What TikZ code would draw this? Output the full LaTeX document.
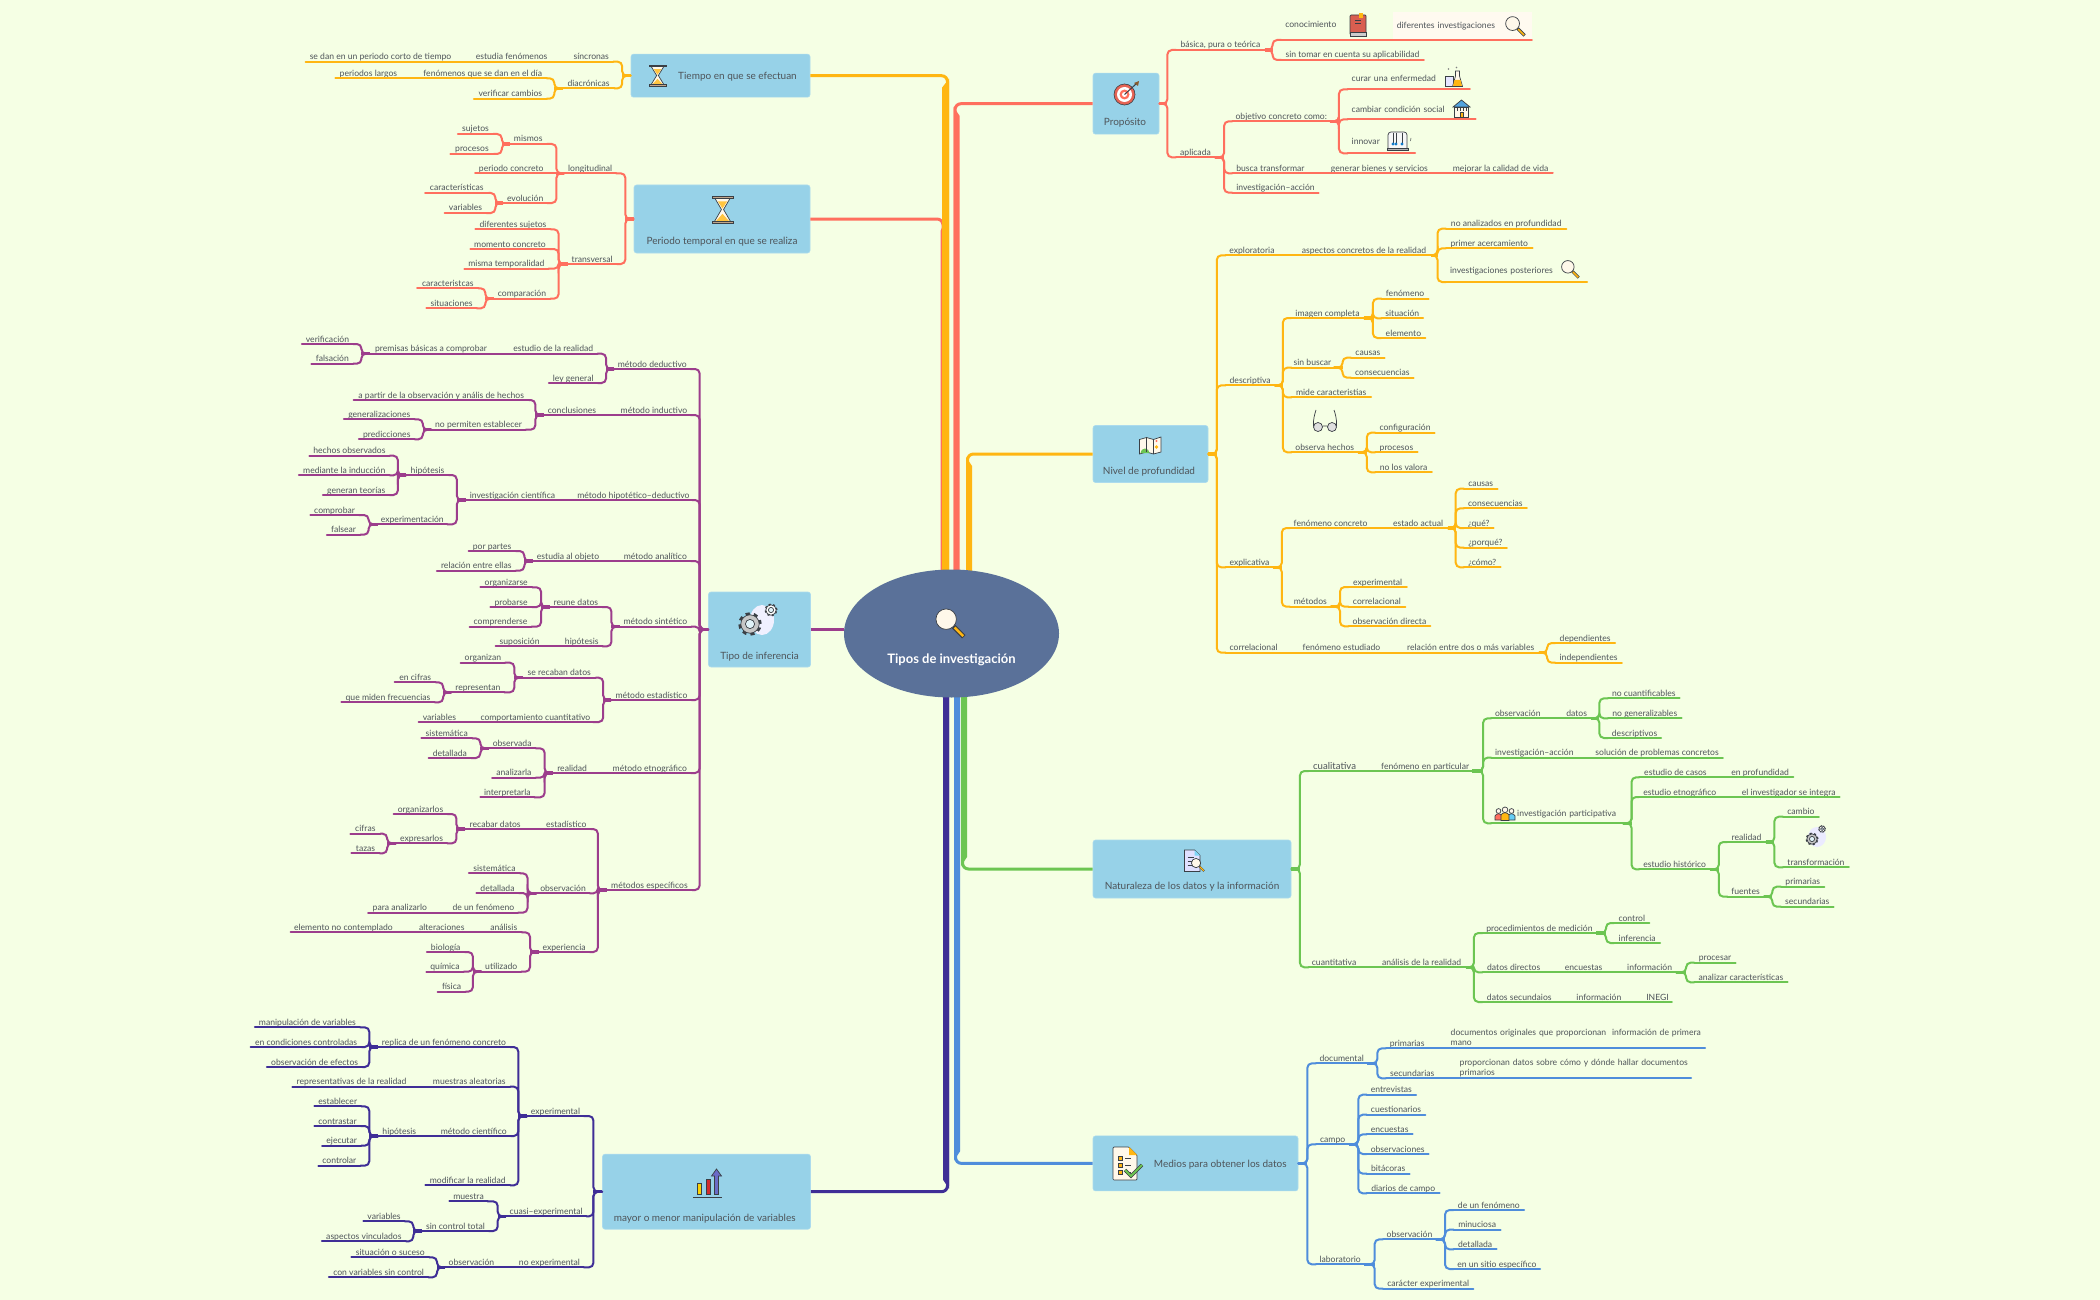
\documentclass[tikz,border=0pt]{standalone}
\usepackage{fontspec}
\setmainfont{Lato}
\usetikzlibrary{calc,shapes.geometric}
\definecolor{bgc}{HTML}{F5FFE4}
\definecolor{boxc}{HTML}{97D2E8}
\definecolor{rootc}{HTML}{5A7199}
\definecolor{txtc}{HTML}{4E5459}
\definecolor{ink}{HTML}{3A3F45}
\definecolor{cy}{HTML}{FFB612}
\definecolor{cc}{HTML}{FF6F5E}
\definecolor{cp}{HTML}{9C3D8C}
\definecolor{cn}{HTML}{3F2E96}
\definecolor{cg}{HTML}{6CC552}
\definecolor{cb}{HTML}{4F8DDB}
\definecolor{cream}{HTML}{FFF8EA}
\newcommand{\fsT}{\fontsize{8.6}{10}\selectfont}
\newcommand{\fsB}{\fontsize{10}{12}\selectfont}
\def\brc{cy}
\tikzset{
 topic/.style={anchor=south,inner xsep=0pt,inner ysep=0pt,outer sep=0pt,text depth=2pt,text=txtc,font=\fsT},
 lft/.style={inner xsep=4pt,text width={\tpw-8pt},align=left},
 branch/.style={draw=\brc,line width=2pt,line cap=round},
 stubl/.style={draw=\brc,line width=3.2pt},
 mainbox/.style={fill=boxc,draw=boxc!80!white,line width=.6pt,rounded corners=2.5pt,inner sep=0pt},
 boxlabel/.style={text=txtc,font=\fsB,inner sep=0pt,yshift=-1.2pt},
 rootthin/.style={line width=3pt,rounded corners=6pt},
 outl/.style={draw=ink,line width=.7pt}
}
\newcommand{\zoomset}[4]{\def\zx{#1}\def\zy{#2}\def\zsx{#3}\def\zsy{#4}}
% [options]{name}{left}{right}{underline y}{text}: a topic with its underline
\newcommand{\topicn}[6][]{%
 \pgfmathsetmacro\tpxl{\zx+#3/\zsx}\pgfmathsetmacro\tpxr{\zx+#4/\zsx}\pgfmathsetmacro\tpy{\zy+#5/\zsy}%
 \pgfmathsetlengthmacro\tpw{(\tpxr-\tpxl)*1pt}%
 \node[topic,minimum width=\tpw,#1] (#2) at ({(\tpxl+\tpxr)/2},\tpy) {#6};%
 \draw[branch] (#2.south west) -- (#2.south east);}
\newcommand{\setstem}[1]{\pgfmathsetmacro\stx{\zx+#1/\zsx}\coordinate (st) at (\stx,0);}
\newcommand{\brL}[3]{\setstem{#2}%
 \foreach \kid in {#3}{\draw[branch,rounded corners=4.5pt] (#1.south west) -- (st |- #1.south west) -- (st |- \kid.south east) -- (\kid.south east);}%
 \draw[stubl] (#1.south west) -- (st |- #1.south west);}
\newcommand{\brR}[3]{\setstem{#2}%
 \foreach \kid in {#3}{\draw[branch,rounded corners=4.5pt] (#1.south east) -- (st |- #1.south east) -- (st |- \kid.south west) -- (\kid.south west);}%
 \draw[stubl] (#1.south east) -- (st |- #1.south east);}
\newcommand{\boxL}[3]{\setstem{#2}%
 \foreach \kid in {#3}{\draw[branch,rounded corners=4.5pt] (#1.west) -- (st |- #1.west) -- (st |- \kid.south east) -- (\kid.south east);}%
 \draw[stubl] (#1.west) -- (st |- #1.west);}
\newcommand{\boxR}[3]{\setstem{#2}%
 \foreach \kid in {#3}{\draw[branch,rounded corners=4.5pt] (#1.east) -- (st |- #1.east) -- (st |- \kid.south west) -- (\kid.south west);}%
 \draw[stubl] (#1.east) -- (st |- #1.east);}
\newcommand{\linkh}[2]{\draw[branch] (#1.south east) -- (#2.south west);}
% box anchor, trunk coordinate, colour, trunk width, side of the box (+1 right, -1 left), direction to the root (+1 down, -1 up)
\newcommand{\rootln}[6]{%
 \pgfmathsetmacro\rw{#4/2}\pgfmathsetmacro\ro{(#4/2-1.5)*#5}%
 \draw[rootthin,#3] (#1) -- ($(#2 |- #1)+(-\ro,0)$) -- ($(#2)+(-\ro,0)$);
 \fill[#3] ($(#2 |- #1)+({-#5*\rw},{#6*3})$) -- ($(#2 |- #1)+({#5*\rw},{#6*12})$) -- ($(#2)+({#5*\rw},0)$) -- ($(#2)+({-#5*\rw},0)$) -- cycle;}
% ---- icons
\newcommand{\iconMag}[3]{\begin{scope}[shift={(#1,#2)},x=#3pt,y=-#3pt]
 \draw[ink,line width=.15*#3pt] (.6,.6) -- (.93,.93);
 \draw[cy,line width=.08*#3pt] (.63,.63) -- (.91,.91);
 \fill[cream] (.36,.36) circle (.33);
 \draw[ink,line width=.7pt] (.36,.36) circle (.33);
\end{scope}}
\newcommand{\iconGlass}[4]{\begin{scope}[shift={(#1,#2)},x=#3pt,y=-#4pt]
 \filldraw[fill=cream,outl] (.12,.06) -- (.88,.06) -- (.55,.5) -- (.88,.94) -- (.12,.94) -- (.45,.5) -- cycle;
 \fill[cy!80] (.28,.2) -- (.72,.2) -- (.5,.46) -- cycle;
 \fill[cy!80] (.5,.66) -- (.8,.92) -- (.2,.92) -- cycle;
 \filldraw[fill=brown!60!gray!70,outl] (0,0) rectangle (1,.07);
 \filldraw[fill=brown!60!gray!70,outl] (0,.93) rectangle (1,1);
\end{scope}}
\newcommand{\iconGear}[4]{%
 \pgfmathsetlengthmacro\gd{2*pi*#3*.85/16*1pt}%
 \draw[ink,line width=.34*#3pt,dash pattern=on \gd off \gd] (#1,#2) circle (.85*#3pt);
 \filldraw[fill=#4,draw=ink,line width=.7pt] (#1,#2) circle (.8*#3pt);
 \filldraw[fill=boxc!30!white,draw=ink,line width=.7pt] (#1,#2) circle (.4*#3pt);}
\begin{document}
\begin{tikzpicture}[x=1pt,y=-1pt]
\fill[bgc] (0,0) rectangle (2100,1300);
\useasboundingbox (0,0) rectangle (2100,1300);
% ---- main boxes and root
\node[mainbox,minimum width=179pt,minimum height=43pt] (bTiempo) at (720.5,75.7) {};
\node[mainbox,minimum width=176pt,minimum height=68pt] (bPeriodo) at (722,219) {};
\node[mainbox,minimum width=102pt,minimum height=75pt] (bTipo) at (759.5,629.5) {};
\node[mainbox,minimum width=208pt,minimum height=75pt] (bMayor) at (706.5,1191.7) {};
\node[mainbox,minimum width=66pt,minimum height=61pt] (bProp) at (1126,103.7) {};
\node[mainbox,minimum width=115pt,minimum height=57pt] (bNivel) at (1150.5,454) {};
\node[mainbox,minimum width=198pt,minimum height=58pt] (bNat) at (1192,869) {};
\node[mainbox,minimum width=205pt,minimum height=55pt] (bMed) at (1195.5,1163.4) {};
\coordinate (rCoralA) at (942.5,633.5);\coordinate (rYellowA) at (945.5,633.5);
\coordinate (rCoralB) at (956.5,633.5);\coordinate (rYellowB) at (969,633.5);
\coordinate (rNavy) at (946,633.5);\coordinate (rBlue) at (957,633.5);\coordinate (rGreen) at (964,633.5);
\rootln{bPeriodo.east}{rCoralA}{cc}{4}{-1}{1}
\rootln{bTiempo.east}{rYellowA}{cy}{7}{-1}{1}
\rootln{bProp.west}{rCoralB}{cc}{6}{1}{1}
\rootln{bNivel.west}{rYellowB}{cy}{6}{1}{1}
\rootln{bNat.west}{rGreen}{cg}{6}{1}{-1}
\rootln{bMed.west}{rBlue}{cb}{6}{1}{-1}
\rootln{bMayor.east}{rNavy}{cn}{6}{-1}{-1}
\node[ellipse,fill=rootc,minimum width=215pt,minimum height=128pt,inner sep=0pt] (root) at (951.5,633.5) {};
\draw[cp,line width=2.4pt] (bTipo.east) -- (root.west |- bTipo.east);
\node[text=white,font=\fontsize{13}{15}\selectfont\bfseries,inner sep=0pt] (rootlbl) at (951.5,659.5) {Tipos de investigación};
\iconMag{935}{608}{31}
% ---- box labels
\node[boxlabel,anchor=west] (lTiempo) at (678,75.7) {Tiempo en que se efectuan};
\node[boxlabel] (lPeriodo) at (722,240) {Periodo temporal en que se realiza};
\node[boxlabel] (lTipo) at (759.5,655) {Tipo de inferencia};
\node[boxlabel] (lMayor) at (704.7,1217) {mayor o menor manipulación de variables};
\node[boxlabel] (lProp) at (1125,122) {Propósito};
\node[boxlabel] (lNivel) at (1149,470.7) {Nivel de profundidad};
\node[boxlabel] (lNat) at (1192,885.7) {Naturaleza de los datos y la información};
\node[boxlabel,anchor=west] (lMed) at (1153.7,1163.7) {Medios para obtener los datos};
% ---- box icons
\iconGlass{649}{65}{17}{21}
\iconGlass{712}{196}{21}{27}
\fill[white!80!blue!30] (762,620) ellipse (12pt and 15pt);
\iconGear{750}{624}{11.5}{gray!45}
\iconGear{771}{610}{6.5}{white}
% chart
\begin{scope}[shift={(693,1168)}]
 \filldraw[fill=yellow!70!orange,outl] (4,15) rectangle (8.5,26.5);
 \filldraw[fill=red!65!gray,outl] (13,11) rectangle (17.5,26.5);
 \filldraw[fill=blue!45!gray!80,outl] (21.5,26.5) -- (21.5,8) -- (18.5,8) -- (23.5,1) -- (28.5,8) -- (25.5,8) -- (25.5,26.5) -- cycle;
 \draw[ink,line width=.8pt] (0,29.5) -- (29,29.5);
\end{scope}
% target
\begin{scope}[shift={(1114,81)}]
 \fill[cc!90!black] (10.5,13.5) circle (10.5pt);\draw[ink,line width=.6pt] (10.5,13.5) circle (10.5pt);
 \fill[white] (10.5,13.5) circle (7.5pt);\fill[cc] (10.5,13.5) circle (5pt);\fill[white] (10.5,13.5) circle (2.5pt);
 \draw[ink,line width=1pt] (10.5,13.5) -- (22,3);\fill[brown!70!black] (20,2) -- (25,0) -- (24,5) -- cycle;
\end{scope}
% map
\begin{scope}[shift={(1139.5,437)}]
 \filldraw[fill=cream,outl] (0,2.5) -- (7,0.5) -- (14,2.5) -- (21.5,0) -- (21.5,15) -- (14,17) -- (7,15) -- (0,17) -- cycle;
 \fill[cg] (1,16) arc[start angle=180,end angle=0,radius=4.5pt] -- cycle;
 \draw[ink,line width=.7pt] (7,.5) -- (7,15) (14,2.5) -- (14,17);
 \fill[cc] (17,4) circle (1.2pt);\fill[cy] (17,10) circle (1.8pt);
\end{scope}
% document with magnifier
\begin{scope}[shift={(1184.5,850)}]
 \filldraw[fill=blue!12!white,outl] (0,0) -- (10,0) -- (15.5,5.5) -- (15.5,21.5) -- (0,21.5) -- cycle;
 \fill[cyan!50!white] (10,0) -- (15.5,5.5) -- (10,5.5) -- cycle;
 \draw[ink,line width=.6pt] (3,7) -- (9,7) (3,11) -- (8,11) (3,15) -- (8,15);
\end{scope}
\iconMag{1191}{858}{14}
% checklist
\begin{scope}[shift={(1113,1147)}]
 \filldraw[fill=cream,outl,rounded corners=1pt] (0,0) -- (16,0) -- (24,8) -- (24,33) -- (0,33) -- cycle;
 \fill[cy] (16,0) -- (24,8) -- (16,8) -- cycle;
 \foreach \sy in {9,16,23}{\filldraw[fill=cy,outl] (5,\sy) rectangle (9,\sy+4);\draw[ink,line width=.6pt] (12,\sy+2) -- (18,\sy+2);}
 \draw[ink,line width=3.4pt] (12,23) -- (18,29) -- (29,18);
 \draw[cg,line width=2pt] (12,23) -- (18,29) -- (29,18);
\end{scope}
% ---- Tiempo
\def\brc{cy}\zoomset{280}{0}{2.8}{3}
\topicn{a1}{810}{933}{185}{síncronas}
\topicn{a2}{537}{760}{185}{estudia fenómenos}
\topicn{a3}{72}{491}{185}{se dan en un periodo corto de tiempo}
\topicn{a4}{792}{936}{265}{diacrónicas}
\topicn{a5}{388}{747}{235}{fenómenos que se dan en el día}
\topicn{a6}{155}{340}{235}{periodos largos}
\topicn{a7}{543}{747}{296}{verificar cambios}
\boxL{bTiempo}{958}{a1,a4}
\linkh{a2}{a1}\linkh{a3}{a2}\linkh{a6}{a5}
\brL{a4}{768}{a5,a7}
% ---- Periodo
\def\brc{cc}
\topicn{b1}{796}{941}{520}{longitudinal}
\topicn{b2}{805}{943}{792}{transversal}
\topicn{b3}{643}{747}{432}{mismos}
\topicn{b4}{546}{749}{520}{periodo concreto}
\topicn{b5}{625}{748}{609}{evolución}
\topicn{b6}{498}{597}{402}{sujetos}
\topicn{b7}{477}{598}{462}{procesos}
\topicn{b8}{406}{584}{579}{características}
\topicn{b9}{461}{578}{639}{variables}
\topicn{b10}{547}{758}{688}{diferentes sujetos}
\topicn{b11}{533}{755}{747}{momento concreto}
\topicn{b12}{516}{752}{806}{misma temporalidad}
\topicn{b13}{598}{757}{896}{comparación}
\topicn{b14}{384}{556}{865}{caracteristcas}
\topicn{b15}{410}{551}{925}{situaciones}
\boxL{bPeriodo}{967}{b1,b2}
\brL{b1}{774}{b3,b5}\linkh{b4}{b1}
\brL{b3}{621}{b6,b7}
\brL{b5}{603}{b8,b9}
\brL{b2}{780}{b10,b11,b12,b13}
\brL{b13}{575}{b14,b15}
% ---- Tipo de inferencia
\def\brc{cp}\zoomset{280}{320}{2.8}{3}
\topicn{c1}{936}{1149}{147}{método deductivo}
\topicn{c2}{641}{889}{101}{estudio de la realidad}
\topicn{c3}{753}{889}{189}{ley general}
\topicn{c4}{251}{595}{101}{premisas básicas a comprobar}
\topicn{c5}{61}{205}{72}{verificación}
\topicn{c6}{88}{205}{131}{falsación}
\topicn{c7}{945}{1149}{285}{método inductivo}
\topicn{c8}{738}{897}{285}{conclusiones}
\topicn{c9}{206}{697}{240}{a partir de la observación y anális de hechos}
\topicn{c10}{424}{688}{329}{no permiten establecer}
\topicn{c11}{179}{377}{298}{generalizaciones}
\topicn{c12}{221}{377}{358}{predicciones}
\topicn{c13}{825}{1154}{540}{método hipotético–deductivo}
\topicn{c14}{520}{782}{540}{investigación científica}
\topicn{c15}{354}{472}{465}{hipótesis}
\topicn{c16}{273}{468}{613}{experimentación}
\topicn{c17}{82}{307}{407}{hechos observados}
\topicn{c18}{53}{307}{466}{mediante la inducción}
\topicn{c19}{120}{307}{525}{generan teorías}
\topicn{c20}{85}{221}{585}{comprobar}
\topicn{c21}{131}{225}{644}{falsear}
\topicn{c22}{952}{1150}{723}{método analítico}
\topicn{c23}{708}{905}{723}{estudia al objeto}
\topicn{c24}{528}{660}{693}{por partes}
\topicn{c25}{439}{660}{752}{relación entre ellas}
\topicn{c26}{951}{1151}{920}{método sintético}
\topicn{c27}{755}{902}{861}{reune datos}
\topicn{c28}{787}{903}{979}{hipótesis}
\topicn{c29}{604}{738}{979}{suposición}
\topicn{c30}{561}{706}{802}{organizarse}
\topicn{c31}{589}{705}{861}{probarse}
\topicn{c32}{531}{704}{920}{comprenderse}
\linkh{c4}{c2}\linkh{c8}{c7}\linkh{c14}{c13}\linkh{c23}{c22}\linkh{c29}{c28}
\brL{c1}{913}{c2,c3}
\brL{c4}{228}{c5,c6}
\brL{c8}{715}{c9,c10}
\brL{c10}{400}{c11,c12}
\brL{c14}{495}{c15,c16}
\brL{c15}{330}{c17,c18,c19}
\brL{c16}{248}{c20,c21}
\brL{c23}{684}{c24,c25}
\brL{c26}{928}{c27,c28}
\brL{c27}{731}{c30,c31,c32}
\zoomset{280}{650}{2.8}{3}
\topicn{d1}{928}{1152}{150}{método estadístico}
\topicn{d2}{680}{884}{83}{se recaban datos}
\topicn{d3}{554}{876}{216}{comportamiento cuantitativo}
\topicn{d4}{388}{505}{216}{variables}
\topicn{d5}{506}{630}{38}{organizan}
\topicn{d6}{480}{628}{127}{representan}
\topicn{d7}{321}{436}{97}{en cifras}
\topicn{d8}{172}{433}{157}{que miden frecuencias}
\topicn{d9}{921}{1150}{369}{método etnográfico}
\topicn{d10}{764}{872}{369}{realidad}
\topicn{d11}{584}{716}{295}{observada}
\topicn{d12}{594}{716}{383}{analizarla}
\topicn{d13}{561}{712}{442}{interpretarla}
\topicn{d14}{396}{538}{265}{sistemática}
\topicn{d15}{416}{535}{324}{detallada}
\topicn{d16}{915}{1154}{720}{métodos específicos}
\topicn{d17}{733}{870}{537}{estadístico}
\topicn{d18}{718}{867}{730}{observación}
\topicn{d19}{724}{867}{906}{experiencia}
\topicn{d20}{518}{687}{537}{recabar datos}
\topicn{d21}{318}{469}{492}{organizarlos}
\topicn{d22}{325}{468}{580}{expresarlos}
\topicn{d23}{197}{281}{551}{cifras}
\topicn{d24}{200}{279}{610}{tazas}
\topicn{d25}{529}{672}{670}{sistemática}
\topicn{d26}{550}{668}{729}{detallada}
\topicn{d27}{473}{666}{788}{de un fenómeno}
\topicn{d28}{247}{424}{788}{para analizarlo}
\topicn{d29}{576}{677}{847}{análisis}
\topicn{d30}{378}{528}{847}{alteraciones}
\topicn{d31}{30}{325}{847}{elemento no contemplado}
\topicn{d32}{564}{675}{965}{utilizado}
\topicn{d33}{411}{517}{906}{biología}
\topicn{d34}{410}{514}{965}{química}
\topicn{d35}{441}{520}{1025}{física}
\boxL{bTipo}{1175}{c1,c7,c13,c22,c26,d1,d9,d16}
\linkh{d4}{d3}\linkh{d10}{d9}\linkh{d20}{d17}\linkh{d28}{d27}\linkh{d30}{d29}\linkh{d31}{d30}
\brL{d1}{905}{d2,d3}
\brL{d2}{656}{d5,d6}
\brL{d6}{457}{d7,d8}
\brL{d10}{741}{d11,d12,d13}
\brL{d11}{561}{d14,d15}
\brL{d16}{890}{d17,d18,d19}
\brL{d20}{494}{d21,d22}
\brL{d22}{300}{d23,d24}
\brL{d18}{693}{d25,d26,d27}
\brL{d19}{700}{d29,d32}
\brL{d32}{540}{d33,d34,d35}
% ---- mayor o menor
\def\brc{cn}\zoomset{230}{990}{2.57}{3}
\topicn{e1}{764}{909}{378}{experimental}
\topicn{e2}{709}{916}{679}{cuasi–experimental}
\topicn{e3}{733}{909}{832}{no experimental}
\topicn{e4}{380}{720}{171}{replica de un fenómeno concreto}
\topicn{e5}{510}{720}{290}{muestras aleatorias}
\topicn{e6}{532}{721}{438}{método científico}
\topicn{e7}{502}{720}{586}{modificar la realidad}
\topicn{e8}{64}{334}{112}{manipulación de variables}
\topicn{e9}{53}{338}{171}{en condiciones controladas}
\topicn{e10}{95}{340}{231}{observación de efectos}
\topicn{e11}{160}{465}{290}{representativas de la realidad}
\topicn{e12}{381}{489}{438}{hipótesis}
\topicn{e13}{217}{337}{349}{establecer}
\topicn{e14}{217}{336}{408}{contrastar}
\topicn{e15}{237}{337}{467}{ejecutar}
\topicn{e16}{227}{335}{527}{controlar}
\topicn{e17}{564}{662}{634}{muestra}
\topicn{e18}{494}{665}{723}{sin control total}
\topicn{e19}{343}{449}{694}{variables}
\topicn{e20}{236}{452}{754}{aspectos vinculados}
\topicn{e21}{552}{689}{832}{observación}
\topicn{e22}{312}{512}{802}{situación o suceso}
\topicn{e23}{254}{510}{862}{con variables sin control}
\boxL{bMayor}{934}{e1,e2,e3}
\linkh{e11}{e5}\linkh{e12}{e6}\linkh{e21}{e3}
\brL{e1}{741}{e4,e5,e6,e7}
\brL{e4}{358}{e8,e9,e10}
\brL{e12}{358}{e13,e14,e15,e16}
\brL{e2}{688}{e17,e18}
\brL{e18}{471}{e19,e20}
\brL{e21}{532}{e22,e23}
% ---- Proposito
\def\brc{cc}\zoomset{830}{0}{2.063}{3}
\fill[cream!70!white] (1392.8,12) rectangle (1532,40);
\topicn{f1}{714}{897}{150}{básica, pura o teórica}
\topicn{f2}{714}{794}{472}{aplicada}
\topicn[lft,text depth=12pt]{f3}{931}{1125}{120}{conocimiento}
\topicn[lft,text depth=11pt]{f4}{1161}{1448}{120}{diferentes investigaciones}
\topicn{f5}{931}{1225}{180}{sin tomar en cuenta su aplicabilidad}
\topicn{f6}{830}{1032}{364}{objetivo concreto como:}
\topicn{f7}{830}{987}{520}{busca transformar}
\topicn{f8}{830}{1008}{578}{investigación–acción}
\topicn[lft,text depth=8pt]{f9}{1068}{1320}{268}{curar una enfermedad}
\topicn[lft,text depth=7pt]{f10}{1068}{1332}{358}{cambiar condición social}
\topicn[lft,text depth=9pt]{f11}{1068}{1207}{460}{innovar}
\topicn{f12}{1025}{1242}{520}{generar bienes y servicios}
\topicn{f13}{1276}{1491}{520}{mejorar la calidad de vida}
\boxR{bProp}{696}{f1,f2}
\brR{f1}{913}{f3,f5}\linkh{f3}{f4}
\brR{f2}{813}{f6,f7,f8}
\brR{f6}{1050}{f9,f10,f11}
\linkh{f7}{f12}\linkh{f12}{f13}
\iconMag{1505}{16}{21}
% book
\begin{scope}[shift={(1350,13)}]
 \filldraw[fill=cc!85!black,outl,rounded corners=1pt] (0,2) rectangle (16,22);
 \filldraw[fill=gray!40,outl] (0,19.5) rectangle (16,23);
 \fill[cy] (9,0) rectangle (13,5);
 \draw[ink,line width=.5pt] (5,7) -- (11,7) (5,10) -- (11,10);
\end{scope}
% flask
\begin{scope}[shift={(1445.5,67)}]
 \filldraw[fill=blue!10!white,outl] (0,9) rectangle (8,19);
 \filldraw[fill=cream,outl] (10,4) -- (14,4) -- (14,9) -- (17,19.5) -- (7,19.5) -- (10,9) -- cycle;
 \fill[cy] (9,13) -- (15,13) -- (16.4,19) -- (7.6,19) -- cycle;
 \fill[gray] (3,2) circle (.8pt) (11,0.5) circle (.8pt);
\end{scope}
% building
\begin{scope}[shift={(1453,100)}]
 \filldraw[fill=cream,outl] (1.5,7) rectangle (15.5,17);
 \filldraw[fill=cyan!70!blue!70,outl] (0,7) -- (8.5,0) -- (17,7) -- cycle;
 \foreach \wx in {3.5,6.5,9.5,12.5}{\fill[ink] (\wx,8.5) rectangle (\wx+1.6,11);}
 \filldraw[fill=cy,outl] (7,12.5) rectangle (10,17);
\end{scope}
% newton cradle
\begin{scope}[shift={(1387,132)}]
 \draw[ink,line width=.7pt,fill=white!70!gray!20,rounded corners=3pt] (1,16) -- (1,0) -- (20,0) -- (20,16);
 \filldraw[fill=gray!60,outl] (0,16) rectangle (21,18);
 \draw[ink,line width=.5pt] (6,1) -- (6,11) (9,1) -- (9,11) (15,1) -- (15,11);
 \fill[cyan!60!blue] (6,12) circle (1.6pt) (9,12) circle (1.6pt) (15,12) circle (1.6pt);
 \draw[ink,line width=.5pt] (24,6) -- (23.5,9);
\end{scope}
% ---- Nivel
\def\brc{cy}\zoomset{1080}{200}{2.8}{3}
\topicn{g1}{408}{555}{166}{exploratoria}
\topicn{g2}{408}{545}{556}{descriptiva}
\topicn{g3}{606}{984}{166}{aspectos concretos de la realidad}
\topicn{g4}{1025}{1362}{86}{no analizados en profundidad}
\topicn{g5}{1025}{1267}{145}{primer acercamiento}
\topicn[lft,text depth=9pt]{g6}{1025}{1420}{246}{investigaciones posteriores}
\topicn{g7}{592}{794}{354}{imagen completa}
\topicn{g8}{592}{710}{503}{sin buscar}
\topicn{g9}{592}{815}{592}{mide caracteristias}
\topicn{g10}{592}{779}{757}{observa hechos}
\topicn{g11}{844}{976}{296}{fenómeno}
\topicn{g12}{844}{961}{355}{situación}
\topicn{g13}{844}{967}{414}{elemento}
\topicn{g14}{759}{853}{473}{causas}
\topicn{g15}{759}{934}{533}{consecuencias}
\topicn{g16}{827}{993}{698}{configuración}
\topicn{g17}{827}{945}{757}{procesos}
\topicn{g18}{827}{985}{817}{no los valora}
\linkh{g1}{g3}
\brR{g3}{1001}{g4,g5,g6}
\brR{g2}{568}{g7,g8,g9,g10}
\brR{g7}{820}{g11,g12,g13}
\brR{g8}{735}{g14,g15}
\brR{g10}{803}{g16,g17,g18}
\iconMag{1561}{260}{19}
% glasses
\begin{scope}[shift={(1312,410)}]
 \filldraw[fill=gray!25,outl] (6,17) circle (4.5pt);
 \filldraw[fill=gray!25,outl] (20,17) circle (4.5pt);
 \draw[ink,line width=.7pt] (10.5,16) -- (15.5,16) (1.5,16) .. controls (1,9) and (3,3) .. (4,0) (24.5,16) .. controls (25,9) and (23,3) .. (22,0);
\end{scope}
\zoomset{1080}{470}{2.8}{3}
\topicn{h1}{408}{541}{292}{explicativa}
\topicn{h2}{408}{564}{548}{correlacional}
\topicn{h3}{588}{815}{174}{fenómeno concreto}
\topicn{h4}{588}{702}{410}{métodos}
\topicn{h5}{864}{1029}{174}{estado actual}
\topicn{h6}{1075}{1169}{56}{causas}
\topicn{h7}{1075}{1251}{115}{consecuencias}
\topicn{h8}{1075}{1158}{174}{¿qué?}
\topicn{h9}{1075}{1195}{233}{¿porqué?}
\topicn{h10}{1075}{1178}{292}{¿cómo?}
\topicn{h11}{752}{915}{351}{experimental}
\topicn{h12}{752}{911}{410}{correlacional}
\topicn{h13}{752}{981}{469}{observación directa}
\topicn{h14}{614}{850}{548}{fenómeno estudiado}
\topicn{h15}{903}{1285}{548}{relación entre dos o más variables}
\topicn{h16}{1331}{1498}{519}{dependientes}
\topicn{h17}{1331}{1517}{578}{independientes}
\boxR{bNivel}{383}{g1,g2,h1,h2}
\brR{h1}{565}{h3,h4}\linkh{h3}{h5}
\brR{h5}{1052}{h6,h7,h8,h9,h10}
\brR{h4}{728}{h11,h12,h13}
\linkh{h2}{h14}\linkh{h14}{h15}
\brR{h15}{1308}{h16,h17}
% ---- Naturaleza
\def\brc{cg}\zoomset{1080}{690}{1.96}{3}
\topicn[font=\fontsize{9.6}{11}\selectfont]{i1}{448}{550}{243}{cualitativa}
\topicn{i2}{448}{548}{832}{cuantitativa}
\topicn{i3}{584}{769}{243}{fenómeno en particular}
\topicn{i4}{806}{910}{85}{observación}
\topicn{i5}{806}{975}{203}{investigación–acción}
\topicn[lft,text depth=7pt]{i6}{806}{1064}{400}{\hspace*{22pt}investigación participativa}
\topicn{i7}{945}{1002}{85}{datos}
\topicn{i8}{1035}{1175}{25}{no cuantificables}
\topicn{i9}{1035}{1179}{85}{no generalizables}
\topicn{i10}{1035}{1139}{144}{descriptivos}
\topicn{i11}{1002}{1260}{203}{solución de problemas concretos}
\topicn{i12}{1096}{1238}{262}{estudio de casos}
\topicn{i13}{1096}{1255}{321}{estudio etnográfico}
\topicn{i14}{1096}{1235}{538}{estudio histórico}
\topicn{i15}{1268}{1398}{262}{en profundidad}
\topicn{i16}{1289}{1489}{321}{el investigador se integra}
\topicn{i17}{1269}{1344}{456}{realidad}
\topicn{i18}{1269}{1340}{620}{fuentes}
\topicn{i19}{1378}{1448}{380}{cambio}
\topicn{i20}{1378}{1507}{532}{transformación}
\topicn{i21}{1374}{1459}{590}{primarias}
\topicn{i22}{1374}{1477}{650}{secundarias}
\topicn{i23}{582}{757}{832}{análisis de la realidad}
\topicn{i24}{789}{1012}{729}{procedimientos de medición}
\topicn{i25}{789}{911}{847}{datos directos}
\topicn{i26}{789}{933}{936}{datos secundaios}
\topicn{i27}{966}{1068}{936}{información}
\topicn{i28}{1104}{1160}{936}{INEGI}
\topicn{i29}{1047}{1116}{699}{control}
\topicn{i30}{1047}{1137}{759}{inferencia}
\topicn{i31}{942}{1032}{847}{encuestas}
\topicn{i32}{1065}{1168}{847}{información}
\topicn{i33}{1204}{1285}{818}{procesar}
\topicn{i34}{1204}{1387}{877}{analizar características}
\boxR{bNat}{431}{i1,i2}
\linkh{i1}{i3}
\brR{i3}{790}{i4,i5,i6}
\linkh{i4}{i7}\linkh{i5}{i11}
\brR{i7}{1018}{i8,i9,i10}
\brR{i6}{1081}{i12,i13,i14}
\linkh{i12}{i15}\linkh{i13}{i16}
\brR{i14}{1252}{i17,i18}
\brR{i17}{1361}{i19,i20}
\brR{i18}{1357}{i21,i22}
\linkh{i2}{i23}
\brR{i23}{772}{i24,i25,i26}
\linkh{i26}{i27}\linkh{i27}{i28}
\brR{i24}{1031}{i29,i30}
\linkh{i25}{i31}\linkh{i31}{i32}
\brR{i32}{1188}{i33,i34}
% people
\begin{scope}[shift={(1495,807)}]
 \filldraw[fill=cc,outl] (0,13) -- (0,9) .. controls (1,6) and (6,6) .. (7,9) -- (7,13) -- cycle;
 \filldraw[fill=cream,outl] (3.5,4) circle (2.4pt);
 \filldraw[fill=cyan!60,outl] (13,13) -- (13,9) .. controls (14,6) and (19,6) .. (20,9) -- (20,13) -- cycle;
 \filldraw[fill=cream,outl] (16.5,4) circle (2.4pt);
 \filldraw[fill=cy,outl] (6,13.5) -- (6,8) .. controls (7,5) and (13,5) .. (14,8) -- (14,13.5) -- cycle;
 \filldraw[fill=cream,outl] (10,2.8) circle (2.8pt);
\end{scope}
\fill[blue!8!white] (1817,837) ellipse (9pt and 10pt);
\iconGear{1812}{839}{6.5}{gray!45}
\iconGear{1822}{829}{3.8}{white}
% ---- Medios
\def\brc{cb}\zoomset{1280}{1010}{3}{3}
\topicn{j1}{108}{262}{160}{documental}
\topicn{j2}{108}{208}{403}{campo}
\topicn{j3}{108}{253}{763}{laboratorio}
\topicn{j4}{318}{445}{115}{primarias}
\topicn{j5}{318}{475}{205}{secundarias}
\topicn[lft,text depth=13pt]{j6}{500}{1275}{115}{\mbox{documentos originales que proporcionan\ \ información de primera}\\mano}
\topicn[lft,text depth=13pt]{j7}{527}{1233}{205}{\mbox{proporcionan datos sobre cómo y dónde hallar documentos}\\primarios}
\topicn{j8}{260}{408}{254}{entrevistas}
\topicn{j9}{260}{436}{314}{cuestionarios}
\topicn{j10}{260}{398}{373}{encuestas}
\topicn{j11}{260}{446}{432}{observaciones}
\topicn{j12}{260}{389}{491}{bitácoras}
\topicn{j13}{260}{479}{550}{diarios de campo}
\topicn{j14}{309}{468}{688}{observación}
\topicn{j15}{309}{580}{836}{carácter experimental}
\topicn{j16}{521}{732}{600}{de un fenómeno}
\topicn{j17}{521}{662}{659}{minuciosa}
\topicn{j18}{521}{650}{718}{detallada}
\topicn{j19}{521}{780}{777}{en un sitio específico}
\boxR{bMed}{82}{j1,j2,j3}
\brR{j1}{292}{j4,j5}
\linkh{j4}{j6}\linkh{j5}{j7}
\brR{j2}{235}{j8,j9,j10,j11,j12,j13}
\brR{j3}{284}{j14,j15}
\brR{j14}{495}{j16,j17,j18,j19}
\end{tikzpicture}
\end{document}
